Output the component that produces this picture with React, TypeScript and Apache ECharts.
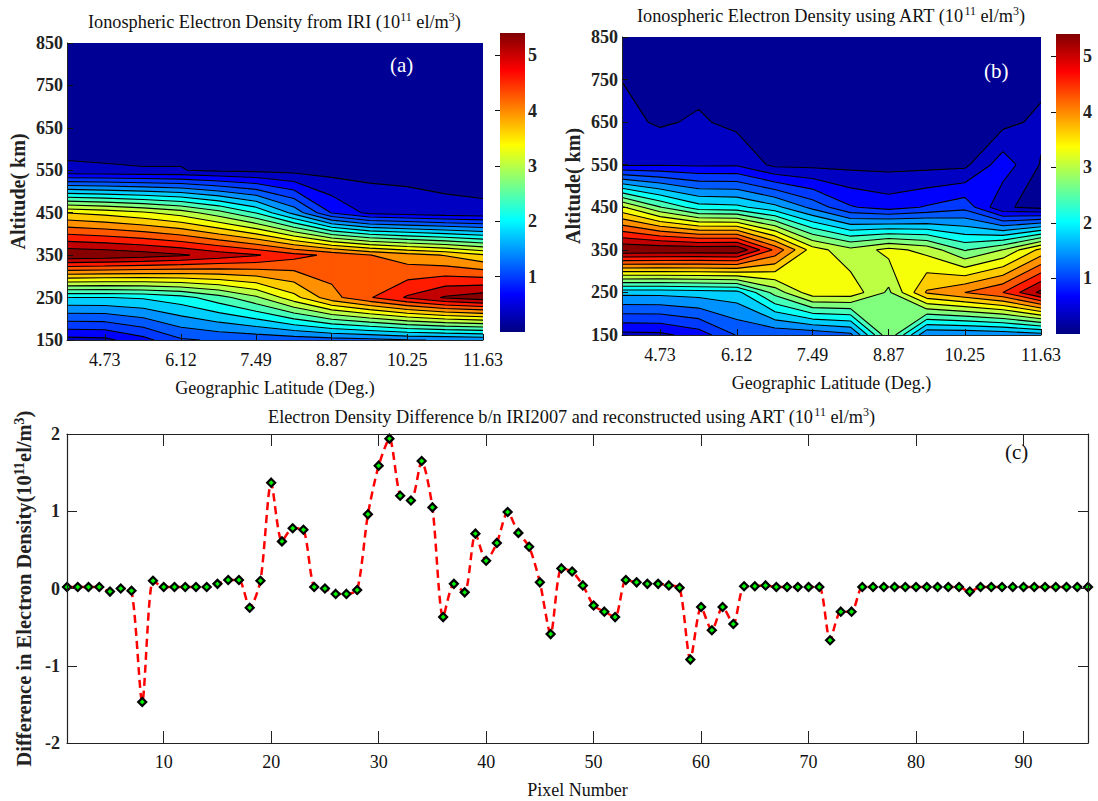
import React, { useEffect, useRef } from "react";
import * as echarts from "echarts";

const latitudes = [4.04, 4.73, 5.43, 6.12, 6.81, 7.49, 8.18, 8.87, 9.56, 10.25, 10.94, 11.63];
const altitudes = [150, 250, 350, 450, 550, 650, 750, 850];
const latTicks = [4.73, 6.12, 7.49, 8.87, 10.25, 11.63];
const altTicks = [150, 250, 350, 450, 550, 650, 750, 850];
const levels = [0.15, 0.46, 0.77, 1.08, 1.39, 1.7, 2.01, 2.32, 2.63, 2.94, 3.25, 3.56, 3.87, 4.18, 4.49, 4.8, 5.11];

const iriDensity = [
  [0.35, 0.38, 0.66, 1.04, 1.12, 1.15, 1.2, 1.25, 1.3, 1.38, 1.4, 1.45],
  [2.0, 2.0, 2.05, 2.2, 2.5, 2.88, 3.45, 4.07, 4.46, 4.84, 5.15, 5.3],
  [5.4, 5.35, 5.27, 5.15, 4.98, 4.83, 4.6, 4.42, 4.19, 4.0, 3.85, 3.6],
  [3.55, 3.45, 3.3, 3.1, 2.75, 2.3, 1.6, 0.75, 0.38, 0.31, 0.23, 0.2],
  [0.18, 0.17, 0.16, 0.16, 0.1, 0.08, 0.05, 0.03, 0.05, 0.05, 0.05, 0.05],
  [0.05, 0.05, 0.05, 0.05, 0.05, 0.05, 0.05, 0.05, 0.05, 0.05, 0.05, 0.05],
  [0.05, 0.05, 0.05, 0.05, 0.05, 0.05, 0.05, 0.05, 0.05, 0.05, 0.05, 0.05],
  [0.05, 0.05, 0.05, 0.05, 0.05, 0.05, 0.05, 0.05, 0.05, 0.05, 0.05, 0.05],
];

const artDensity = [
  [0.36, 0.38, 0.6, 1.1, 1.12, 1.15, 1.3, 2.9, 1.4, 1.4, 1.45, 1.55],
  [1.8, 1.8, 1.85, 1.9, 2.75, 3.45, 3.45, 2.88, 3.91, 4.18, 4.49, 5.2],
  [5.4, 5.38, 5.36, 5.38, 4.42, 3.4, 3.04, 3.35, 3.15, 2.6, 2.95, 3.65],
  [3.3, 2.65, 2.15, 2.1, 1.8, 1.3, 0.8, 0.64, 0.8, 0.98, 0.19, 0.06],
  [0.41, 0.435, 0.41, 0.42, 0.07, 0.06, 0.055, 0.05, 0.055, 0.075, 0.64, 0.125],
  [0.237, 0.11, 0.193, 0.065, 0.05, 0.05, 0.05, 0.05, 0.05, 0.05, 0.05, 0.232],
  [0.145, 0.055, 0.05, 0.05, 0.05, 0.05, 0.05, 0.05, 0.05, 0.05, 0.05, 0.055],
  [0.05, 0.05, 0.05, 0.05, 0.05, 0.05, 0.05, 0.05, 0.05, 0.05, 0.05, 0.05],
];

const pixelDifference = [
  0.02, 0.02, 0.02, 0.02, -0.04, 0.0, -0.03, -1.47, 0.1, 0.02,
  0.02, 0.02, 0.02, 0.02, 0.06, 0.11, 0.11, -0.25, 0.1, 1.37,
  0.61, 0.78, 0.76, 0.02, 0.0, -0.07, -0.07, -0.02, 0.96, 1.59,
  1.94, 1.2, 1.14, 1.65, 1.05, -0.37, 0.06, -0.05, 0.71, 0.36,
  0.59, 0.99, 0.72, 0.54, 0.08, -0.59, 0.26, 0.22, 0.04, -0.22,
  -0.3, -0.37, 0.11, 0.08, 0.06, 0.06, 0.04, 0.01, -0.92, -0.24,
  -0.54, -0.24, -0.46, 0.03, 0.03, 0.04, 0.02, 0.02, 0.02, 0.02,
  0.02, -0.67, -0.3, -0.3, 0.02, 0.02, 0.02, 0.02, 0.02, 0.02,
  0.02, 0.02, 0.02, 0.02, -0.04, 0.02, 0.02, 0.02, 0.02, 0.02,
  0.02, 0.02, 0.02, 0.02, 0.02, 0.02,
];

const SERIF = "'Liberation Serif', 'Times New Roman', serif";
const C_MIN = 0.05;
const C_MAX = 5.4;

function jet(t: number): string {
  const f = (v: number) => Math.round(255 * Math.max(0, Math.min(1, v)));
  const r = f(Math.min(4 * t - 1.5, -4 * t + 4.5));
  const g = f(Math.min(4 * t - 0.5, -4 * t + 3.5));
  const b = f(Math.min(4 * t + 0.5, -4 * t + 2.5));
  return `rgb(${r},${g},${b})`;
}
function bandColor(low: number): string {
  const shift = low >= 4.8 || low < 1 ? 0.25 : 0.1;
  return jet((low + shift - C_MIN) / (C_MAX - C_MIN));
}

function contourRender(grid: number[][]) {
  return (_params: any, api: any) => {
    const children: any[] = [];
    const corners = (i: number, j: number) =>
      [[i, j], [i + 1, j], [i + 1, j + 1], [i, j + 1]].map(([a, b]) => ({
        p: api.coord([latitudes[a], altitudes[b]]) as number[],
        v: grid[b][a],
      }));
    const cross = (a: any, b: any, level: number) => {
      const t = (level - a.v) / (b.v - a.v);
      return [a.p[0] + t * (b.p[0] - a.p[0]), a.p[1] + t * (b.p[1] - a.p[1])];
    };
    const fmt = (p: number[]) => `${p[0].toFixed(2)} ${p[1].toFixed(2)}`;
    const base = [api.coord([latitudes[0], altitudes[0]]), api.coord([latitudes[latitudes.length - 1], altitudes[altitudes.length - 1]])];
    children.push({
      type: "rect",
      shape: { x: base[0][0], y: base[1][1], width: base[1][0] - base[0][0], height: base[0][1] - base[1][1] },
      style: { fill: jet(0.02) },
    });
    const linePaths: string[] = [];
    levels.forEach((level) => {
      let fill = "";
      for (let j = 0; j < altitudes.length - 1; j++) {
        for (let i = 0; i < latitudes.length - 1; i++) {
          const c = corners(i, j);
          const edgeHit: (number[] | null)[] = [null, null, null, null];
          const hits: number[][] = [];
          for (let k = 0; k < 4; k++) {
            const a = c[k];
            const b = c[(k + 1) % 4];
            if (a.v >= level !== b.v >= level) {
              edgeHit[k] = cross(a, b, level);
              hits.push(edgeHit[k]!);
            }
          }
          if (hits.length === 4) {
            const centreHigh = c.reduce((s, q) => s + q.v, 0) / 4 >= level;
            for (let k = 0; k < 4; k++) {
              const high = c[k].v >= level;
              const before = edgeHit[(k + 3) % 4]!;
              const after = edgeHit[k]!;
              if (high !== centreHigh) linePaths.push("M" + fmt(before) + "L" + fmt(after));
              if (!centreHigh && high) fill += "M" + [c[k].p, after, before].map(fmt).join("L") + "Z";
            }
            if (centreHigh) {
              const poly: number[][] = [];
              for (let k = 0; k < 4; k++) {
                if (c[k].v >= level) poly.push(c[k].p);
                poly.push(edgeHit[k]!);
              }
              fill += "M" + poly.map(fmt).join("L") + "Z";
            }
          } else {
            const poly: number[][] = [];
            for (let k = 0; k < 4; k++) {
              if (c[k].v >= level) poly.push(c[k].p);
              if (edgeHit[k]) poly.push(edgeHit[k]!);
            }
            if (poly.length >= 3) fill += "M" + poly.map(fmt).join("L") + "Z";
            if (hits.length === 2) linePaths.push("M" + fmt(hits[0]) + "L" + fmt(hits[1]));
          }
        }
      }
      if (fill) {
        const color = bandColor(level);
        children.push({
          type: "path",
          shape: { pathData: fill },
          style: { fill: color, stroke: color, lineWidth: 0.6 },
        });
      }
    });
    children.push({
      type: "path",
      shape: { pathData: linePaths.join("") },
      style: { fill: null, stroke: "#000", lineWidth: 1.1 },
    });
    return { type: "group", children };
  };
}

function colorbarRender(_params: any, api: any) {
  const lo = api.coord([0, 0]);
  const hi = api.coord([1, C_MAX]);
  const stops = [0, 0.125, 0.375, 0.625, 0.875, 1].map((offset) => ({ offset, color: jet(offset) }));
  return {
    type: "rect",
    shape: { x: lo[0], y: hi[1], width: hi[0] - lo[0], height: lo[1] - hi[1] },
    style: { fill: new echarts.graphic.LinearGradient(0, 1, 0, 0, stops) },
  };
}

const INK = "#222";
const tickFont = { fontFamily: SERIF, fontSize: 18, fontWeight: "bold" as const, color: INK };
const xTickFont = { fontFamily: SERIF, fontSize: 18, fontWeight: "normal" as const, color: "#111" };
const nameFont = { fontFamily: SERIF, fontSize: 18, color: "#111" };
const textStyle = { fontFamily: SERIF, fontSize: 18.3, fontWeight: "normal" as const, color: "#111", verticalAlign: "bottom" as const, lineHeight: 20 };
const supStyle = { fontFamily: SERIF, fontSize: 12, fontWeight: "normal" as const, color: "#111", verticalAlign: "top" as const, lineHeight: 20 };
const rich = { t: textStyle, s: supStyle };

function contourAxes(gridIndex: number) {
  const line = { show: true, onZero: false, lineStyle: { color: "#222", width: 1 } };
  return {
    x: [
      {
        type: "value", gridIndex, min: latitudes[0], max: 11.63, z: 5,
        axisLine: line,
        axisTick: { show: true, inside: true, length: 6, customValues: latTicks, lineStyle: { color: "#111" } },
        axisLabel: { customValues: latTicks, margin: 11, formatter: (v: number) => v.toFixed(2), ...xTickFont },
        splitLine: { show: false },
        name: "Geographic Latitude (Deg.)", nameLocation: "middle", nameGap: 39, nameTextStyle: nameFont,
      },
    ],
    y: [
      {
        type: "value", gridIndex, min: 150, max: 850, z: 5,
        axisLine: line,
        axisTick: { show: true, inside: true, length: 6, customValues: altTicks, lineStyle: { color: "#111" } },
        axisLabel: { customValues: altTicks, margin: 4, ...tickFont },
        splitLine: { show: false },
        name: "Altitude( km)", nameLocation: "middle", nameGap: 39, nameTextStyle: { ...nameFont, fontSize: 20, fontWeight: "bold", color: INK },
      },
    ],
  };
}

function colorbarAxes(gridIndex: number) {
  const ticks = [1, 2, 3, 4, 5];
  return {
    x: [{ type: "value", gridIndex, min: 0, max: 1, show: false }],
    y: [
      {
        type: "value", gridIndex, position: "right", min: 0, max: C_MAX, z: 5,
        axisLine: { show: false },
        axisTick: { show: true, inside: true, length: 5, customValues: ticks, lineStyle: { color: "#111" } },
        axisLabel: { customValues: ticks, margin: 3, ...tickFont },
        splitLine: { show: false },
      },
    ],
  };
}

export default function App() {
  const ref = useRef<HTMLDivElement>(null);
  useEffect(() => {
    const chart = echarts.init(ref.current!, null, { renderer: "svg" });
    const a = contourAxes(0);
    const cbA = colorbarAxes(1);
    const b = contourAxes(2);
    const cbB = colorbarAxes(3);
    const diffTicks = [10, 20, 30, 40, 50, 60, 70, 80, 90];
    const boxLine = { show: true, onZero: false, lineStyle: { color: "#222", width: 1.2 } };
    const xDiff = {
      type: "value", gridIndex: 4, min: 1, max: 96, z: 5,
      axisLine: boxLine,
      axisTick: { show: true, inside: true, length: 12, customValues: diffTicks, lineStyle: { color: "#222" } },
      axisLabel: { customValues: diffTicks, margin: 10, ...xTickFont },
      splitLine: { show: false },
      name: "Pixel Number", nameLocation: "middle", nameGap: 38, nameTextStyle: nameFont,
    };
    const xDiffTop = {
      type: "value", gridIndex: 4, position: "top", min: 1, max: 96, z: 5,
      axisLine: boxLine,
      axisTick: { show: true, inside: true, length: 12, customValues: diffTicks, lineStyle: { color: "#222" } },
      axisLabel: { show: false }, splitLine: { show: false },
    };
    const yDiff = {
      type: "value", gridIndex: 4, min: -2, max: 2, interval: 1, z: 5,
      axisLine: boxLine,
      axisTick: { show: true, inside: true, length: 10, lineStyle: { color: "#222" } },
      axisLabel: { margin: 7, ...tickFont },
      splitLine: { show: false },
      name: "{b|Difference in Electron Density(10}{sup|11}{b|el/m}{sup|3}{b|)}",
      nameLocation: "middle", nameGap: 27,
      nameTextStyle: {
        ...nameFont,
        rich: {
          b: { fontFamily: SERIF, fontSize: 20.5, fontWeight: "bold", color: INK, verticalAlign: "bottom", lineHeight: 22 },
          sup: { fontFamily: SERIF, fontSize: 14, fontWeight: "bold", color: INK, verticalAlign: "top", lineHeight: 22 },
        },
      },
    };
    const yDiffRight = {
      type: "value", gridIndex: 4, position: "right", min: -2, max: 2, interval: 1, z: 5,
      axisLine: boxLine,
      axisTick: { show: true, inside: true, length: 10, lineStyle: { color: "#222" } },
      axisLabel: { show: false }, splitLine: { show: false },
    };

    chart.setOption({
      animation: false,
      backgroundColor: "#fff",
      title: [
        { text: "{t|Ionospheric Electron Density from IRI (10}{s|11}{t| el/m}{s|3}{t|)}", left: 83, top: 6, textStyle: { rich } },
        { text: "{t|Ionospheric Electron Density using ART (10}{s|11}{t| el/m}{s|3}{t|)}", left: 632, top: 0, textStyle: { rich } },
        { text: "{t|Electron Density Difference b/n IRI2007 and reconstructed using ART (10}{s|11}{t| el/m}{s|3}{t|)}", left: 263, top: 401, textStyle: { rich } },
      ],
      grid: [
        { left: 67, top: 43, width: 416, height: 297 },
        { left: 500, top: 33, width: 25, height: 299 },
        { left: 622, top: 37, width: 419, height: 298 },
        { left: 1056, top: 34, width: 24, height: 300 },
        { left: 67, top: 434, width: 1021, height: 309 },
      ],
      xAxis: [...a.x, ...cbA.x, ...b.x, ...cbB.x, xDiff, xDiffTop],
      yAxis: [...a.y, ...cbA.y, ...b.y, ...cbB.y, yDiff, yDiffRight],
      series: [
        { type: "custom", coordinateSystem: "cartesian2d", xAxisIndex: 0, yAxisIndex: 0, z: 1, clip: true, silent: true, data: [[latitudes[0], altitudes[0]]], renderItem: contourRender(iriDensity) },
        { type: "custom", coordinateSystem: "cartesian2d", xAxisIndex: 1, yAxisIndex: 1, z: 1, silent: true, data: [[0, 0]], renderItem: colorbarRender },
        { type: "custom", coordinateSystem: "cartesian2d", xAxisIndex: 2, yAxisIndex: 2, z: 1, clip: true, silent: true, data: [[latitudes[0], altitudes[0]]], renderItem: contourRender(artDensity) },
        { type: "custom", coordinateSystem: "cartesian2d", xAxisIndex: 3, yAxisIndex: 3, z: 1, silent: true, data: [[0, 0]], renderItem: colorbarRender },
        {
          type: "line", xAxisIndex: 4, yAxisIndex: 4, z: 3, clip: false, smooth: 0.25,
          data: pixelDifference.map((v, i) => [i + 1, v]),
          lineStyle: { color: "#ff0000", width: 2.5, type: [8, 5] },
          symbol: "diamond", symbolSize: 8, showSymbol: true, showAllSymbols: true,
          itemStyle: { color: "#00f000", borderColor: "#000", borderWidth: 2.2 },
        },
      ],
      graphic: [
        { type: "text", z: 100, left: 390, top: 54, style: { text: "(a)", fill: "#fff", fontFamily: SERIF, fontSize: 21 } },
        { type: "text", z: 100, left: 984, top: 60, style: { text: "(b)", fill: "#fff", fontFamily: SERIF, fontSize: 21 } },
        { type: "text", z: 100, left: 1005, top: 441, style: { text: "(c)", fill: "#111", fontFamily: SERIF, fontSize: 21 } },
      ],
    });
    return () => chart.dispose();
  }, []);
  return <div ref={ref} style={{ position: "fixed", left: 0, top: 0, width: 1098, height: 801, background: "#fff" }} />;
}
